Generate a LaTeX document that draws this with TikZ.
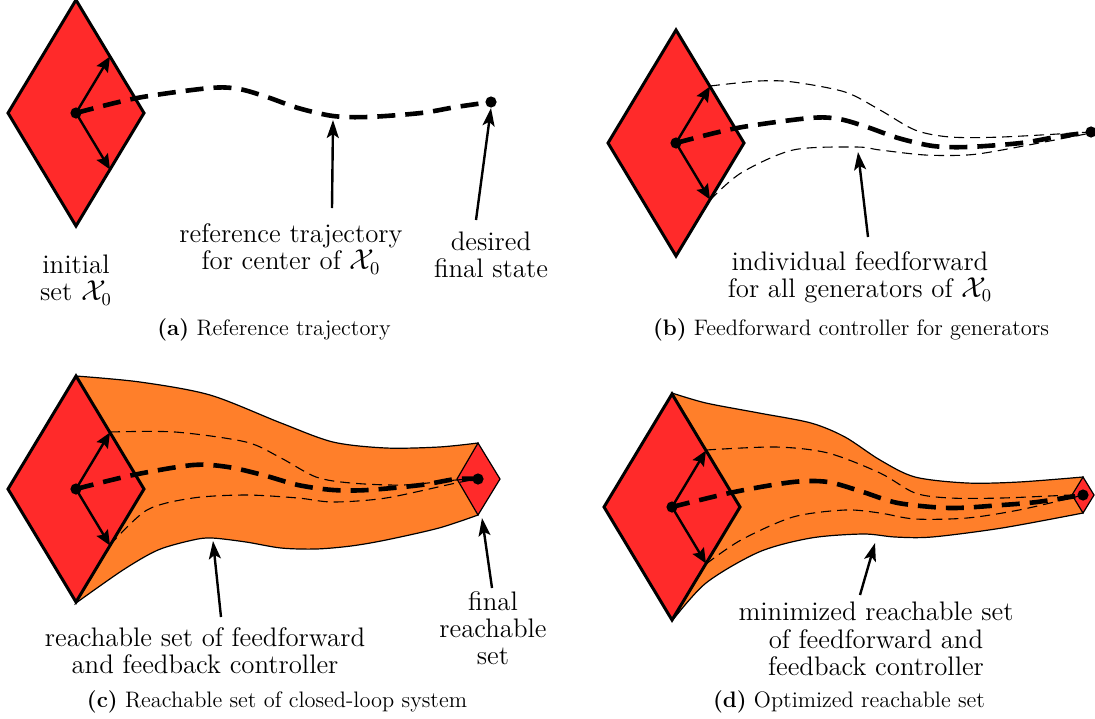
\documentclass[tikz,border=0pt]{standalone}
\usepackage{amsmath}
\usetikzlibrary{arrows.meta,calc}
\definecolor{setred}{RGB}{255,42,42}
\definecolor{tubeorange}{RGB}{255,127,42}
\tikzset{
  setbody/.style={fill=setred,draw=black,line width=1.5pt,line join=miter},
  smallset/.style={fill=setred,draw=black,line width=0.6pt,line join=miter},
  tube/.style={fill=tubeorange,draw=black,line width=0.6pt},
  gen/.style={line width=1.2pt,-{Stealth[length=7.5pt,width=6.5pt,inset=1.2pt]}},
  centertraj/.style={line width=2.3pt,dash pattern=on 9pt off 5pt},
  gentraj/.style={line width=0.55pt,dash pattern=on 5pt off 3pt},
  pointer/.style={line width=1.2pt,-{Stealth[length=9pt,width=6pt,inset=2pt]}},
  lbl/.style={align=center,font=\fontsize{13.4}{13.6}\selectfont,inner sep=0pt},
  capt/.style={font=\fontsize{11.2}{13}\selectfont,inner sep=0pt},
  dot/.style={circle,fill=black,inner sep=0pt,minimum size=5.6pt},
  % initial set with its two generators, drawn around the current origin
  zonoset/.pic={
    \path[setbody] (0,-113) -- (68,0) -- (0,113) -- (-68,0) -- cycle;
    \draw[gen] (0,0) -- (34,-56.5);
    \draw[gen] (0,0) -- (34,56.5);
  },
}
\begin{document}
\begin{tikzpicture}[x=0.5pt,y=-0.5pt]
\useasboundingbox (0,0) rectangle (1095,718);

% ---------------- (a) reference trajectory ----------------
\pic at (76,113) {zonoset};
\draw[centertraj] plot[smooth] coordinates {(76,113) (137,98) (210,88) (239,89) (267,97) (298,108) (333,116) (368,117) (421,113) (456,107) (491,102)};
\node[dot] (ca) at (76,113) {};
\node[dot] (ea) at (491,102) {};
\node[lbl] (inita) at (76,280) {initial\\set $\mathcal{X}_0$};
\node[lbl] (refa) at (291,249) {reference trajectory\\for center of $\mathcal{X}_0$};
\node[lbl] (desa) at (491,255) {desired\\final state};
\coordinate (refa-tail) at (332,208);
\coordinate (refa-tip) at (333,120);
\coordinate (desa-tail) at (476,220);
\draw[pointer] (refa-tail) -- (refa-tip);
\draw[pointer] (desa-tail) -- (ea.south);
\node[capt] (capa) at (274,330) {\textbf{(a)} Reference trajectory};

% ---------------- (b) feedforward for generators ----------------
\pic at (676,143) {zonoset};
\draw[gentraj] plot[smooth] coordinates {(710,86) (759,81) (793,82) (845,92) (880,110) (915,130) (950,137) (1002,137) (1091,132)};
\draw[gentraj] plot[smooth] coordinates {(710,200) (741,173) (793,150) (856,147) (880,150) (925,155) (967,155) (1002,150) (1091,133)};
\draw[centertraj] plot[smooth] coordinates {(676,143) (737,128) (810,118) (839,119) (867,127) (898,138) (933,146) (968,147) (1021,143) (1056,137) (1091,132)};
\node[dot] (cb) at (676,143) {};
\node[dot] (eb) at (1091,132) {};
\node[lbl] (indb) at (860,277) {individual feedforward\\for all generators of $\mathcal{X}_0$};
\coordinate (indb-tail) at (868,237);
\coordinate (indb-tip) at (858,152);
\draw[pointer] (indb-tail) -- (indb-tip);
\node[capt] (capb) at (851,330) {\textbf{(b)} Feedforward controller for generators};

% ---------------- (c) closed-loop reachable set ----------------
\path[tube] plot[smooth] coordinates {(76,376) (140,382) (210,395) (281,423) (333,442) (386,448) (439,447) (478,443)}
  -- plot[smooth] coordinates {(478,515) (439,528) (386,540) (351,546) (316,549) (281,548) (246,542) (212,538) (193,540) (158,550) (123,570) (76,603)}
  -- (144,489) -- cycle;
\pic at (76,489) {zonoset};
\path[smallset] (478,443) -- (500,479) -- (478,515) -- (457,479) -- cycle;
\draw[gentraj] plot[smooth] coordinates {(110,432) (175,432) (246,442) (281,458) (316,477) (351,483) (403,485) (456,480) (478,479)};
\draw[gentraj] plot[smooth] coordinates {(110,545) (147,510) (193,498) (246,495) (298,498) (333,502) (386,498) (456,483) (478,479)};
\draw[centertraj] plot[smooth] coordinates {(76,489) (133,475) (193,465) (228,467) (263,475) (298,485) (333,490) (368,490) (421,485) (456,479) (478,479)};
\node[dot] (cc) at (76,489) {};
\node[dot] (ec) at (478,479) {};
\node[lbl] (reachc) at (205,651) {reachable set of feedforward\\and feedback controller};
\node[lbl] (finalc) at (493,628) {final\\reachable\\set};
\coordinate (reachc-tail) at (221,617);
\coordinate (reachc-tip) at (213,541);
\coordinate (finalc-tail) at (492,588);
\coordinate (finalc-tip) at (482,518);
\draw[pointer] (reachc-tail) -- (reachc-tip);
\draw[pointer] (finalc-tail) -- (finalc-tip);
\node[capt] (capc) at (277,702) {\textbf{(c)} Reachable set of closed-loop system};

% ---------------- (d) optimized reachable set ----------------
\path[tube] plot[smooth] coordinates {(672,393) (706,403) (759,413) (811,423) (845,437) (880,460) (915,477) (967,483) (1019,482) (1083,477)}
  -- plot[smooth] coordinates {(1083,513) (1002,528) (932,537) (895,537) (863,534) (811,538) (759,552) (706,583) (672,621)}
  -- (740,507) -- cycle;
\pic at (672,507) {zonoset};
\path[smallset] (1083,477) -- (1094,495) -- (1083,513) -- (1072,495) -- cycle;
\draw[gentraj] plot[smooth] coordinates {(706,450) (776,447) (828,453) (880,473) (915,493) (950,498) (1002,498) (1071,495) (1083,495)};
\draw[gentraj] plot[smooth] coordinates {(706,564) (741,540) (793,517) (845,510) (880,513) (915,519) (967,518) (1019,510) (1071,498) (1083,495)};
\draw[centertraj] plot[smooth] coordinates {(672,507) (734,492) (793,482) (828,482) (863,492) (898,503) (950,508) (1002,505) (1037,502) (1083,495)};
\node[dot] (cd) at (672,507) {};
\node[dot] (ed) at (1083,495) {};
\node[lbl] (mind) at (876,639) {minimized reachable set\\of feedforward and\\feedback controller};
\coordinate (mind-tail) at (860,595);
\coordinate (mind-tip) at (875,543);
\draw[pointer] (mind-tail) -- (mind-tip);
\node[capt] (capd) at (849,702) {\textbf{(d)} Optimized reachable set};
\end{tikzpicture}
\end{document}
